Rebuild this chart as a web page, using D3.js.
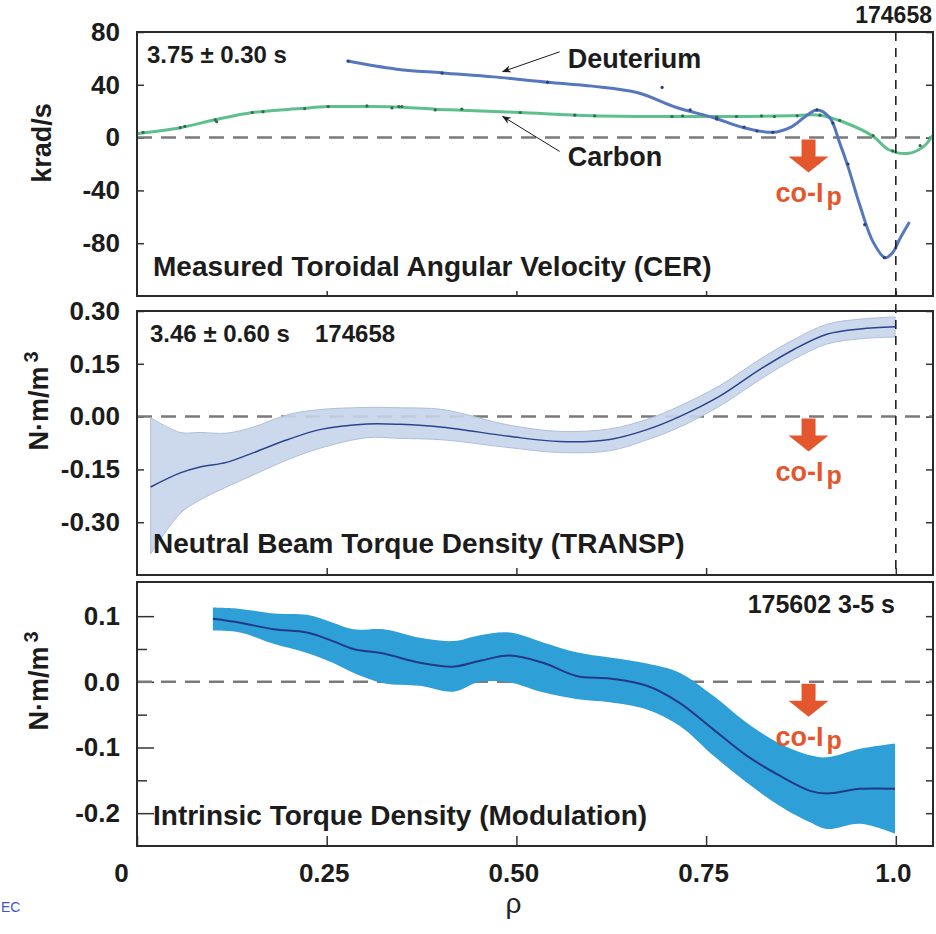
<!DOCTYPE html>
<html>
<head>
<meta charset="utf-8">
<script src="https://cdn.jsdelivr.net/npm/d3@7"></script>
<style>
  body { margin: 0; background: #fff; }
  svg text { font-family: "Liberation Sans", Arial, sans-serif; }
</style>
</head>
<body>
<div class="svg-container"></div>
<script>
//panel 1: toroidal angular velocity (krad/s)
const deutRho = [0.278, 0.34, 0.402, 0.47, 0.541, 0.60, 0.66, 0.71, 0.76, 0.80, 0.838, 0.862, 0.896, 0.913, 0.926, 0.937, 0.953, 0.97, 0.986, 0.996, 1.005, 1.018];
const deutVal = [58, 52, 49, 46, 42, 39, 34, 23, 15, 7.5, 4, 8, 21, 15, -4, -22, -52, -79, -91, -87, -77, -64];
const deutDotRho = [0.278, 0.402, 0.541, 0.692, 0.729, 0.764, 0.80, 0.817, 0.838, 0.896, 0.917, 0.937, 0.959, 0.985];
const deutDotVal = [58, 49, 42, 38, 21, 14, 8, 5, 4, 21, 11, -20, -66, -91];

const carbRho = [0.0, 0.057, 0.103, 0.152, 0.215, 0.252, 0.303, 0.35, 0.393, 0.428, 0.505, 0.60, 0.71, 0.80, 0.86, 0.90, 0.93, 0.97, 0.99, 1.015, 1.036, 1.049];
const carbVal = [3, 7.5, 13.5, 19, 22, 23.5, 23.5, 23, 21.5, 20.8, 19, 16.6, 16, 16, 16.5, 17, 12, 1, -9, -12, -7, 2];
const carbDotRho = [0.008, 0.057, 0.063, 0.103, 0.105, 0.152, 0.166, 0.221, 0.252, 0.303, 0.336, 0.345, 0.349, 0.393, 0.428, 0.505, 0.577, 0.603, 0.705, 0.719, 0.764, 0.79, 0.823, 0.84, 0.87, 0.90, 0.926, 0.97, 0.996, 1.032];
const carbDotVal = [4, 7.5, 8.5, 13.5, 12, 19, 19.5, 22, 23.5, 24, 22.5, 23.5, 23.5, 21, 21.5, 19, 17, 16.5, 16, 16.5, 15.5, 16, 16.5, 16, 16.5, 17, 13, 1.5, -10, -6];

//panel 2: neutral beam torque density (TRANSP)
const nbRho = [0.018, 0.057, 0.083, 0.118, 0.153, 0.198, 0.241, 0.303, 0.347, 0.403, 0.49, 0.557, 0.623, 0.672, 0.715, 0.768, 0.821, 0.865, 0.909, 0.953, 0.999];
const nbMid = [-0.20, -0.16, -0.143, -0.13, -0.103, -0.066, -0.037, -0.021, -0.022, -0.03, -0.056, -0.071, -0.065, -0.037, 0.0, 0.058, 0.134, 0.19, 0.234, 0.249, 0.255];
const nbHi  = [-0.003, -0.045, -0.045, -0.047, -0.03, 0.005, 0.02, 0.026, 0.025, 0.02, -0.024, -0.042, -0.035, -0.008, 0.03, 0.088, 0.163, 0.218, 0.262, 0.277, 0.283];
const nbLo  = [-0.39, -0.275, -0.237, -0.2, -0.166, -0.123, -0.09, -0.06, -0.062, -0.066, -0.088, -0.102, -0.097, -0.066, -0.03, 0.03, 0.105, 0.162, 0.206, 0.221, 0.226];

//panel 3: intrinsic torque density (modulation)
const itRho = [0.10, 0.136, 0.18, 0.224, 0.258, 0.285, 0.325, 0.373, 0.417, 0.452, 0.491, 0.535, 0.579, 0.623, 0.672, 0.715, 0.759, 0.803, 0.847, 0.887, 0.909, 0.953, 0.999];
const itMid = [0.096, 0.09, 0.08, 0.075, 0.062, 0.05, 0.043, 0.029, 0.023, 0.032, 0.04, 0.029, 0.009, 0.005, -0.006, -0.032, -0.072, -0.112, -0.143, -0.166, -0.17, -0.163, -0.163];
const itHi  = [0.113, 0.111, 0.104, 0.102, 0.09, 0.08, 0.08, 0.067, 0.062, 0.071, 0.075, 0.06, 0.045, 0.037, 0.028, 0.014, -0.021, -0.062, -0.094, -0.112, -0.115, -0.102, -0.094];
const itLo  = [0.078, 0.075, 0.058, 0.044, 0.029, 0.014, -0.002, -0.006, -0.015, 0.0, -0.001, -0.016, -0.026, -0.031, -0.042, -0.067, -0.112, -0.153, -0.189, -0.214, -0.224, -0.216, -0.231];

//ticks
const xTicks = [0, 0.25, 0.5, 0.75, 1.0];
const xTickLabels = ['0', '0.25', '0.50', '0.75', '1.0'];
const y1Ticks = [80, 40, 0, -40, -80];
const y1Labels = ['80', '40', '0', '-40', '-80'];
const y2Ticks = [0.30, 0.15, 0.0, -0.15, -0.30];
const y2Labels = ['0.30', '0.15', '0.00', '-0.15', '-0.30'];
const y3Ticks = [0.1, 0.0, -0.1, -0.2];
const y3Labels = ['0.1', '0.0', '-0.1', '-0.2'];
const y3Minor = [0.05, -0.05, -0.15];
const coIpRho = 0.885;
const edgeRho = 1.0;

//layout
const W = 936, H = 934;
const left = 137, right = 933;
const panels = [
  { top: 32, bottom: 296, domain: [-120, 80] },
  { top: 311, bottom: 575, domain: [-0.45, 0.30] },
  { top: 582, bottom: 846, domain: [-0.25, 0.152] }
];

const svg = d3.select('.svg-container')
  .append('svg')
  .attr('width', W)
  .attr('height', H);

const x = d3.scaleLinear().domain([0, 1.049]).range([left, right]);
panels.forEach(p => p.y = d3.scaleLinear().domain(p.domain).range([p.bottom, p.top]));
const [y1, y2, y3] = panels.map(p => p.y);

const ink = '#1c1c1c';
const orange = '#e4572e';

function styleTicks(g, size) {
  g.select('.domain').remove();
  g.selectAll('.tick line').attr('stroke', '#333').attr('stroke-width', 1.5);
  g.selectAll('.tick text')
    .attr('fill', ink)
    .attr('font-size', size)
    .attr('font-weight', 'bold')
    .attr('font-family', '"Liberation Sans", Arial, sans-serif');
}

//axes for each panel
function drawAxes(p, ticks, labels, tickLen) {
  svg.append('g')
    .attr('transform', `translate(${left},0)`)
    .call(d3.axisLeft(p.y).tickValues(ticks).tickSize(-tickLen).tickPadding(17)
      .tickFormat((d, i) => labels[i]))
    .call(g => styleTicks(g, 26));
  svg.append('g')
    .attr('transform', `translate(${right},0)`)
    .call(d3.axisRight(p.y).tickValues(ticks).tickSize(-7).tickFormat(''))
    .call(g => styleTicks(g, 26));
}
drawAxes(panels[0], y1Ticks, y1Labels, 7);
drawAxes(panels[1], y2Ticks, y2Labels, 7);
drawAxes(panels[2], y3Ticks, y3Labels, 17);

//minor ticks panel 3
svg.append('g')
  .attr('transform', `translate(${left},0)`)
  .call(d3.axisLeft(y3).tickValues(y3Minor).tickSize(-10).tickFormat(''))
  .call(g => styleTicks(g, 26));
svg.append('g')
  .attr('transform', `translate(${right},0)`)
  .call(d3.axisRight(y3).tickValues(y3Minor).tickSize(-7).tickFormat(''))
  .call(g => styleTicks(g, 26));

//bottom ticks
svg.append('g')
  .attr('transform', `translate(0,${panels[0].bottom})`)
  .call(d3.axisBottom(x).tickValues(xTicks.slice(1)).tickSize(-5).tickFormat(''))
  .call(g => styleTicks(g, 26));
svg.append('g')
  .attr('transform', `translate(0,${panels[1].bottom})`)
  .call(d3.axisBottom(x).tickValues(xTicks.slice(1)).tickSize(-7).tickFormat(''))
  .call(g => styleTicks(g, 26));
svg.append('g')
  .attr('transform', `translate(0,${panels[2].bottom})`)
  .call(d3.axisBottom(x).tickValues(xTicks).tickSize(-10).tickPadding(18)
    .tickFormat((d, i) => xTickLabels[i]))
  .call(g => styleTicks(g, 26))
  .call(g => g.selectAll('.tick text').attr('dx', d => d === 0 ? -16 : -3));

//zero lines
panels.forEach(p => {
  svg.append('line')
    .attr('x1', left).attr('x2', right)
    .attr('y1', p.y(0)).attr('y2', p.y(0))
    .attr('stroke', '#7a7a7a')
    .attr('stroke-width', 2.5)
    .attr('stroke-dasharray', '15,9');
});

//panel 2 band + line
const nbData = nbRho.map((r, i) => ({ r, m: nbMid[i], lo: nbLo[i], hi: nbHi[i] }));
svg.append('path')
  .datum(nbData)
  .attr('fill', '#c6d4ea')
  .attr('fill-opacity', 0.9)
  .attr('stroke', '#aebfdc')
  .attr('stroke-width', 1)
  .attr('d', d3.area().x(d => x(d.r)).y0(d => y2(d.lo)).y1(d => y2(d.hi)).curve(d3.curveCatmullRom));
svg.append('path')
  .datum(nbData)
  .attr('fill', 'none')
  .attr('stroke', '#2b438c')
  .attr('stroke-width', 1.5)
  .attr('d', d3.line().x(d => x(d.r)).y(d => y2(d.m)).curve(d3.curveCatmullRom));

//panel 3 band + line
const itData = itRho.map((r, i) => ({ r, m: itMid[i], lo: itLo[i], hi: itHi[i] }));
svg.append('path')
  .datum(itData)
  .attr('fill', '#2f9fd7')
  .attr('d', d3.area().x(d => x(d.r)).y0(d => y3(d.lo)).y1(d => y3(d.hi)).curve(d3.curveCatmullRom));
svg.append('path')
  .datum(itData)
  .attr('fill', 'none')
  .attr('stroke', '#213a86')
  .attr('stroke-width', 2)
  .attr('d', d3.line().x(d => x(d.r)).y(d => y3(d.m)).curve(d3.curveCatmullRom));

//panel 1 curves
const line1 = d3.line().x(d => x(d[0])).y(d => y1(d[1])).curve(d3.curveCatmullRom);
svg.append('path')
  .datum(carbRho.map((r, i) => [r, carbVal[i]]))
  .attr('fill', 'none')
  .attr('stroke', '#5fbf8d')
  .attr('stroke-width', 3)
  .attr('d', line1);
svg.append('path')
  .datum(deutRho.map((r, i) => [r, deutVal[i]]))
  .attr('fill', 'none')
  .attr('stroke', '#5677bd')
  .attr('stroke-width', 3)
  .attr('d', line1);
svg.selectAll('.carb-dot')
  .data(carbDotRho.map((r, i) => [r, carbDotVal[i]]))
  .join('circle')
  .attr('class', 'carb-dot')
  .attr('cx', d => x(d[0])).attr('cy', d => y1(d[1]))
  .attr('r', 1.6)
  .attr('fill', '#2e6b4f');
svg.selectAll('.deut-dot')
  .data(deutDotRho.map((r, i) => [r, deutDotVal[i]]))
  .join('circle')
  .attr('class', 'deut-dot')
  .attr('cx', d => x(d[0])).attr('cy', d => y1(d[1]))
  .attr('r', 1.6)
  .attr('fill', '#273f7a');

//vertical dashed line at rho = 1
svg.append('line')
  .attr('x1', x(edgeRho)).attr('x2', x(edgeRho))
  .attr('y1', panels[0].top).attr('y2', panels[1].bottom)
  .attr('stroke', '#222')
  .attr('stroke-width', 1.6)
  .attr('stroke-dasharray', '9,7');

//frames
panels.forEach(p => {
  svg.append('rect')
    .attr('x', left).attr('y', p.top)
    .attr('width', right - left).attr('height', p.bottom - p.top)
    .attr('fill', 'none')
    .attr('stroke', '#2a2a2a')
    .attr('stroke-width', 2);
});

//co-Ip arrows
const arrowShape = [[-7, 2], [7, 2], [7, 19], [20, 19], [0, 35], [-20, 19], [-7, 19]];
panels.forEach(p => {
  const cx = x(coIpRho), cy = p.y(0);
  svg.append('polygon')
    .attr('points', arrowShape.map(a => [cx + a[0], cy + a[1]].join(',')).join(' '))
    .attr('fill', orange);
  const t = svg.append('text')
    .attr('x', cx).attr('y', cy + 64)
    .attr('text-anchor', 'middle')
    .attr('font-size', 27)
    .attr('font-weight', 'bold')
    .attr('fill', orange);
  t.append('tspan').text('co-I');
  t.append('tspan').attr('dx', 3).attr('dy', 3).attr('font-size', 25).text('p');
});

//annotation arrows
svg.append('defs').append('marker')
  .attr('id', 'tip')
  .attr('viewBox', '0 0 10 10')
  .attr('refX', 9).attr('refY', 5)
  .attr('markerWidth', 9).attr('markerHeight', 9)
  .attr('orient', 'auto')
  .append('path')
  .attr('d', 'M0,1 L10,5 L0,9 L3,5 Z')
  .attr('fill', ink);
const notes = [
  { label: 'Deuterium', from: [0.557, 65], to: [0.482, 50], ty: 68 },
  { label: 'Carbon', from: [0.557, -10.5], to: [0.482, 16], ty: 166 }
];
notes.forEach(n => {
  svg.append('line')
    .attr('x1', x(n.from[0])).attr('y1', y1(n.from[1]))
    .attr('x2', x(n.to[0])).attr('y2', y1(n.to[1]))
    .attr('stroke', ink)
    .attr('stroke-width', 1)
    .attr('marker-end', 'url(#tip)');
  svg.append('text')
    .attr('x', x(n.from[0]) + 8).attr('y', n.ty)
    .attr('font-size', 27)
    .attr('font-weight', 'bold')
    .attr('fill', ink)
    .text(n.label);
});

//texts
const texts = [
  { t: '3.75 ± 0.30 s', x: 147, y: 63, s: 24 },
  { t: 'Measured Toroidal Angular Velocity (CER)', x: 153, y: 276, s: 28 },
  { t: '174658', x: 932, y: 23, s: 23, a: 'end' },
  { t: '3.46 ± 0.60 s', x: 150, y: 342, s: 24 },
  { t: '174658', x: 315, y: 342, s: 24 },
  { t: 'Neutral Beam Torque Density (TRANSP)', x: 153, y: 553, s: 28 },
  { t: '175602 3-5 s', x: 895, y: 613, s: 25, a: 'end' },
  { t: 'Intrinsic Torque Density (Modulation)', x: 153, y: 825, s: 28 }
];
texts.forEach(d => {
  svg.append('text')
    .attr('x', d.x).attr('y', d.y)
    .attr('text-anchor', d.a || 'start')
    .attr('font-size', d.s)
    .attr('font-weight', 'bold')
    .attr('fill', ink)
    .text(d.t);
});

//y-axis titles
svg.append('text')
  .attr('transform', 'translate(51,143) rotate(-90)')
  .attr('text-anchor', 'middle')
  .attr('font-size', 27)
  .attr('font-weight', 'bold')
  .attr('fill', ink)
  .text('krad/s');
[[401], [681]].forEach(([cy]) => {
  const t = svg.append('text')
    .attr('transform', `translate(48,${cy}) rotate(-90)`)
    .attr('text-anchor', 'middle')
    .attr('font-size', 27)
    .attr('font-weight', 'bold')
    .attr('fill', ink);
  t.append('tspan').text('N·m/m');
  t.append('tspan').attr('dx', 4).attr('dy', -10).attr('font-size', 20).text('3');
});

//x-axis title
svg.append('text')
  .attr('x', x(0.5) - 3).attr('y', 913)
  .attr('text-anchor', 'middle')
  .attr('font-size', 28)
  .attr('fill', '#222')
  .text('ρ');

//small corner text
svg.append('text')
  .attr('x', 1).attr('y', 912)
  .attr('font-size', 14)
  .attr('fill', '#3a55c8')
  .text('EC');
</script>
</body>
</html>
